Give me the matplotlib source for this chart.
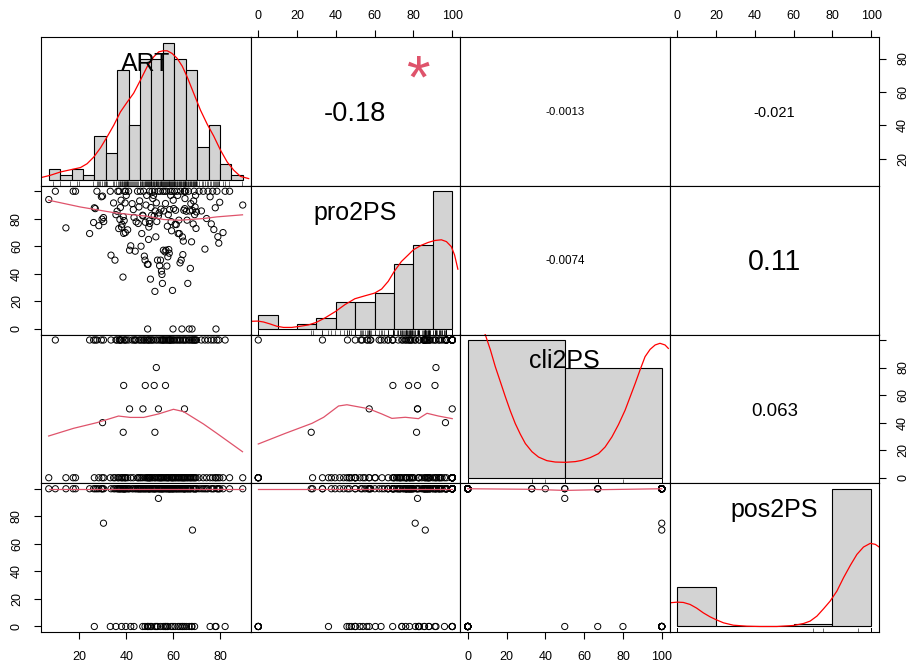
import numpy as np
import matplotlib.pyplot as plt
from matplotlib.transforms import offset_copy
from matplotlib.textpath import TextPath
from matplotlib.font_manager import FontProperties

plt.rcParams['font.family'] = ['Liberation Sans', 'DejaVu Sans']

names = ['ART', 'pro2PS', 'cli2PS', 'pos2PS']

# one row per respondent
art = [7.0, 9.8, 14.3, 17.4, 18.4, 24.4,
       26.1, 26.4, 26.8, 27.5, 28.3, 29.4, 29.7, 29.9,
       30.3, 30.4, 33.2, 33.5, 34.6,
       35.2, 35.6, 36.1, 36.4, 36.8, 37.0, 37.3, 37.5, 37.8, 38.0,
       38.2, 38.6, 38.7, 38.9, 39.1, 39.3, 39.5, 39.6, 39.8, 40.0,
       40.6, 41.0, 41.4, 41.9, 42.5, 43.0, 43.3, 43.8, 44.2, 44.8,
       45.1, 45.4, 45.7, 46.0, 46.3, 46.6, 47.0, 47.1, 47.4, 47.7, 48.0,
       48.1, 48.4, 48.7, 49.0, 49.1, 49.3, 49.5, 49.6, 49.8, 49.9, 50.0,
       50.3, 50.5, 50.8, 51.0, 51.3, 51.6, 51.9, 52.1, 52.2, 52.3, 52.6,
       52.8, 53.0, 53.3, 53.6, 53.7, 54.0, 54.2, 54.4, 54.6, 54.8, 55.0,
       55.2, 55.4, 55.6, 55.8, 56.0, 56.3, 56.5, 56.7, 56.9, 57.1, 57.3, 57.5,
       57.7, 57.9, 58.1, 58.3, 58.5, 58.7, 58.9, 59.1, 59.3, 59.5, 59.7, 59.9, 60.0,
       60.2, 60.5, 60.8, 61.0, 61.3, 61.6, 61.9, 62.1, 62.4, 62.6, 62.9,
       63.1, 63.4, 63.7, 63.9, 64.1, 64.3, 64.5, 64.7, 64.8, 64.9, 65.0,
       65.3, 65.6, 65.9, 66.2, 66.5, 66.8, 67.0, 67.3, 67.5, 67.8,
       68.0, 68.2, 68.5, 68.7, 68.9, 69.1, 69.3, 69.5, 69.7, 69.9,
       71.0, 72.0, 72.8, 73.5, 74.2, 74.8,
       75.7, 76.2, 76.8, 77.3, 77.9, 78.2, 78.6, 79.0, 79.4, 79.8,
       81.2, 82.1, 84.0, 89.6]

pro2ps = [94, 100, 73.4, 100, 100, 69.3,
          77.3, 88, 87.4, 100, 75, 96, 79.7, 96.5,
          80.9, 78, 100, 53.6, 91.5,
          50, 83, 85.5, 100, 72.9, 100, 79.5, 88.2, 93.5, 74,
          76, 37.7, 81.6, 69.4, 78.7, 100, 91.5, 70, 100, 97,
          72, 100, 57.2, 60.4, 91, 86.7, 81, 56.5, 77.8, 100,
          76.6, 88.6, 93, 100, 60.1, 69.3, 82.6, 82.1, 100, 52.9, 50,
          77.5, 90, 97, 46.9, 0, 47, 65, 74, 78.5, 100, 76.6,
          36.2, 88.2, 82.6, 100, 94.7, 97, 82.1, 100, 27.3, 85.7, 66.9,
          91.6, 78, 50, 100, 82.1, 84.3, 46, 100, 50, 87, 42,
          39.6, 33.1, 100, 57.2, 85.7, 100, 56, 91.1, 57.2, 100, 45.7, 74.6,
          52.4, 83, 57.7, 55, 86.7, 100, 97, 78, 71.3, 100, 28, 0, 93.5,
          87.4, 100, 76, 86.2, 75.8, 100, 97, 69.3, 79, 69.3, 48,
          100, 50, 0, 66.9, 54, 63.8, 86.2, 100, 100, 87.4, 94.7,
          100, 85.5, 79, 33.1, 100, 0, 85.7, 44, 91, 63.3,
          0, 86.1, 76.3, 93, 100, 83, 88.6, 97, 73, 85,
          100, 85.7, 100, 58, 80.2, 100,
          96, 76.3, 100, 72.2, 88, 0, 100, 67, 62.3, 92,
          70, 100, 100, 90]

cli2ps = [0, 100, 0, 0, 0, 100,
          100, 0, 100, 100, 0, 100, 0, 40,
          100, 0, 0, 100, 0,
          0, 100, 100, 0, 0, 100, 100, 100, 0, 100,
          0, 0, 33, 67, 100, 0, 100, 0, 0, 100,
          0, 100, 50, 0, 100, 0, 100, 100, 100, 0,
          0, 100, 0, 100, 0, 100, 0, 50, 100, 100, 0,
          67, 100, 0, 0, 100, 0, 100, 0, 100, 0, 0,
          0, 100, 0, 100, 0, 100, 67, 0, 33, 0, 100,
          80, 0, 100, 0, 50, 0, 100, 0, 0, 100, 0,
          0, 100, 100, 0, 100, 0, 100, 67, 0, 100, 0, 100,
          0, 0, 100, 0, 100, 100, 100, 0, 0, 100, 0, 0, 100,
          0, 100, 0, 0, 100, 0, 100, 0, 0, 100, 0,
          100, 0, 0, 100, 0, 0, 100, 0, 50, 0, 100,
          0, 100, 0, 0, 100, 0, 100, 0, 0, 100,
          0, 100, 0, 100, 0, 100, 0, 100, 0, 100,
          0, 100, 0, 100, 0, 100,
          0, 100, 0, 100, 0, 0, 100, 0, 100, 0,
          0, 100, 0, 0]

pos2ps = [100, 100, 100, 100, 100, 100,
          100, 0, 100, 100, 100, 100, 100, 100,
          75, 100, 0, 100, 100,
          100, 0, 100, 100, 100, 100, 100, 100, 100, 0,
          100, 100, 100, 100, 100, 100, 100, 100, 0, 100,
          100, 100, 100, 0, 100, 100, 0, 100, 100, 100,
          100, 100, 100, 100, 100, 100, 0, 100, 100, 100, 0,
          100, 100, 100, 0, 0, 100, 100, 0, 100, 100, 100,
          0, 100, 0, 100, 100, 100, 100, 100, 100, 0, 100,
          0, 100, 0, 100, 93, 100, 100, 100, 0, 100, 100,
          100, 100, 100, 0, 100, 100, 0, 0, 100, 100, 0, 100,
          0, 100, 100, 100, 100, 100, 100, 0, 100, 100, 100, 0, 100,
          100, 100, 0, 100, 100, 100, 100, 0, 100, 100, 0,
          100, 100, 0, 100, 0, 100, 100, 100, 0, 100, 100,
          100, 0, 100, 100, 100, 0, 100, 100, 100, 0,
          0, 70, 100, 100, 100, 0, 100, 100, 100, 100,
          100, 100, 100, 100, 100, 100,
          0, 100, 100, 100, 0, 0, 100, 100, 100, 100,
          100, 0, 100, 100]

# correlations shown in the upper panels
cor_cells = [(0, 1), (0, 2), (0, 3), (1, 2), (1, 3), (2, 3)]
cor_r = [-0.18, -0.0013, -0.021, -0.0074, 0.11, 0.063]
cor_txt = ['-0.18', '-0.0013', '-0.021', '-0.0074', '0.11', '0.063']
cor_sig = ['*', '', '', '', '', '']

# histogram breaks
art_breaks = [5, 10, 15, 20, 25, 30, 35, 40, 45, 50, 55, 60, 65, 70, 75, 80, 85, 90]
pro_breaks = [0, 10, 20, 30, 40, 50, 60, 70, 80, 90, 100]
cli_breaks = [0, 50, 100]
pos_breaks = [0, 20, 40, 60, 80, 100]

# density curves traced from the diagonal (y in counts)
art_dens_x = [1.8, 5.7, 10.1, 14.5, 18.9, 21.8, 24.7, 27.7, 30.6, 33.5, 36.4,
              39.4, 42.2, 45.2, 48.1, 51.0, 53.2, 55.1, 56.9, 59.1, 61.3,
              63.5, 65.6, 68.5, 71.5, 74.4, 77.3, 80.2, 83.2, 86.1, 89.0, 92.6]
art_dens_y = [0.5, 0.9, 1.5, 1.9, 2.3, 3.0, 4.2, 5.9, 7.9, 10.0, 12.4,
              14.2, 15.8, 18.2, 20.6, 22.4, 23.3, 23.5, 23.5, 23.0, 22.1,
              20.7, 18.8, 15.8, 12.7, 10.2, 8.0, 5.5, 3.3, 1.8, 0.7, 0.3]
pro_dens_x = [-4.1, -0.2, 2.7, 6.2, 9.6, 13.0, 17.3, 21.6, 25.9, 29.8, 34.4,
              39.9, 44.7, 49.8, 55.0, 60.0, 63.6, 67.0, 70.1, 73.8, 77.3,
              80.0, 84.1, 87.5, 91.0, 94.4, 97.0, 99.5, 101.2, 102.9]
pro_dens_y = [3.4, 3.5, 3.1, 2.2, 1.2, 0.7, 0.7, 1.2, 1.8, 2.9, 4.9,
              7.8, 10.8, 13.4, 14.7, 15.9, 17.7, 21.1, 25.5, 29.9, 32.8,
              35.1, 37.1, 38.3, 39.2, 39.5, 38.7, 36.5, 32.8, 26.5]
cli_dens_x = [-4, 0, 4, 6.5, 9.1, 11.7, 14.2, 16.8, 19.4, 22.0, 24.5, 27.1,
              29.7, 33.1, 36.5, 40.8, 45.1, 50.3, 55.4, 58.8, 63.1, 67.4,
              70.8, 74.3, 77.7, 81.1, 83.7, 86.3, 88.8, 91.4, 94.0, 96.6,
              99.1, 101.7, 103.4]
cli_dens_y = [121, 125, 120, 113, 103.6, 92.7, 80.6, 69.7, 58.7, 48.3, 39.3, 31.6,
              24.8, 18.9, 15.0, 12.4, 11.4, 11.2, 11.7, 12.6, 14.6, 17.5,
              22.3, 29.6, 38.6, 49.0, 58.7, 68.4, 78.2, 87.9, 93.2, 96.4,
              97.6, 96.4, 93.9]
pos_dens_x = [-4.1, 0, 3.1, 6.6, 10.0, 13.4, 16.9, 19.8, 23.8, 28.9, 35.8,
              42.7, 51.3, 59.9, 65.1, 68.5, 72.0, 75.4, 78.8, 82.3, 85.7,
              89.2, 92.6, 96.0, 99.5, 102.1, 104.1]
pos_dens_y = [23.7, 24.4, 24.1, 22.1, 18.4, 13.7, 9.7, 7.0, 3.7, 1.3, 0.3,
              0, 0, 1.0, 3.0, 5.4, 10.4, 17.7, 25.4, 35.5, 48.8,
              61.2, 72.2, 79.6, 83.3, 82.3, 79.6]

# lowess lines
art_pro_sx = [6.95, 20.4, 34.6, 41.7, 48.8, 55.9, 62.9, 67.2, 72.9, 78.6, 89.5]
art_pro_sy = [93.5, 88.6, 84.5, 83.1, 81.9, 79.5, 79.0, 79.5, 80.2, 81.4, 82.9]
art_cli_sx = [6.95, 17.6, 27.5, 36.7, 41.7, 47.4, 53.7, 60.1, 64.4, 72.9, 78.6, 89.5]
art_cli_sy = [30.3, 35.9, 40, 44.8, 43.8, 43.8, 46.3, 49.7, 48, 39, 32.2, 18.9]
pro_cli_sx = [0, 13.9, 27.7, 33.7, 41.4, 45.7, 56.9, 63.7, 68.9, 75.8, 82.6, 87, 92.9, 100]
pro_cli_sy = [24.5, 32.2, 39.5, 43.9, 52.1, 53, 50.1, 46.3, 43.1, 43.9, 42.9, 46.8, 44.8, 42.9]
art_pos_sx = [7, 30, 50, 70, 89.6]
art_pos_sy = [100, 100, 100, 100, 100]
pro_pos_sx = [0, 50, 100]
pro_pos_sy = [100, 100, 100]
cli_pos_sx = [0, 33, 50, 67, 100]
cli_pos_sy = [100, 99.6, 98.8, 99.3, 100]

data = [art, pro2ps, cli2ps, pos2ps]
breaks = [art_breaks, pro_breaks, cli_breaks, pos_breaks]
dens = [(art_dens_x, art_dens_y), (pro_dens_x, pro_dens_y),
        (cli_dens_x, cli_dens_y), (pos_dens_x, pos_dens_y)]
smooth = {(1, 0): (art_pro_sx, art_pro_sy), (2, 0): (art_cli_sx, art_cli_sy),
          (2, 1): (pro_cli_sx, pro_cli_sy), (3, 0): (art_pos_sx, art_pos_sy),
          (3, 1): (pro_pos_sx, pro_pos_sy), (3, 2): (cli_pos_sx, cli_pos_sy)}

R_RED = '#DF536B'
font = FontProperties(family=['Liberation Sans', 'DejaVu Sans'])


def pad_range(lo, hi):
    d = 0.04 * (hi - lo)
    return lo - d, hi + d


def centred_text(ax, x, y, s, size, **kw):
    # centre the glyph box (not the line box) on (x, y) in axes fraction
    ext = TextPath((0, 0), s, size=size, prop=font).get_extents()
    cx = (ext.x0 + ext.x1) / 2
    cy = (ext.y0 + ext.y1) / 2
    tr = offset_copy(ax.transAxes, fig=ax.figure, x=-cx, y=-cy, units='points')
    return ax.text(x, y, s, fontsize=size, ha='left', va='baseline', transform=tr, **kw)


lims = [pad_range(min(v), max(v)) for v in data]

W, H = 908, 668
fig = plt.figure(figsize=(W / 100, H / 100), dpi=100)
L, R, T, B = 41, 879, 37, 632
pw = (R - L) / 4
ph = (B - T) / 4

axes = {}
for i in range(4):
    for j in range(4):
        x0 = L + j * pw
        y0 = T + i * ph
        ax = fig.add_axes([x0 / W, 1 - (y0 + ph) / H, pw / W, ph / H])
        ax.set_xticks([])
        ax.set_yticks([])
        for s in ax.spines.values():
            s.set_linewidth(0.8)
            s.set_color('black')
        ax.set_xlim(lims[j])
        ax.set_ylim(lims[i])
        axes[i, j] = ax

# diagonal: histogram, density, rug, name
name_size = 18
for k in range(4):
    ax = axes[k, k]
    v = np.array(data[k], dtype=float)
    br = np.array(breaks[k], dtype=float)
    counts = []
    for b in range(len(br) - 1):
        c = np.sum((v > br[b]) & (v <= br[b + 1]))
        if b == 0:
            c += np.sum(v == br[0])
        counts.append(c)
    ax.bar(br[:-1], counts, width=np.diff(br), align='edge', color='#D3D3D3',
           edgecolor='black', linewidth=0.8)
    ax.set_xlim(pad_range(br[0], br[-1]))
    ax.set_ylim(pad_range(0, max(counts)))
    ax.plot(dens[k][0], dens[k][1], color='red', lw=0.9)
    ax.vlines(v, 0, 0.03, transform=ax.get_xaxis_transform(), color='black', lw=0.4)
    ax.text(0.5, 0.833, names[k], fontsize=name_size, ha='center', va='baseline',
            transform=offset_copy(ax.transAxes, fig=fig, y=-0.358 * name_size, units='points'))

# lower: scatter + smooth
for (i, j), (sx, sy) in smooth.items():
    ax = axes[i, j]
    ax.scatter(data[j], data[i], s=20, facecolors='none', edgecolors='black', linewidths=0.7)
    ax.plot(sx, sy, color=R_RED, lw=0.9)

# outer axes, R pairs style
lab_size = 9
pct = [0, 20, 40, 60, 80, 100]
pct_lab = ['0', '20', '40', '60', '80', '100']
pct_lab_side = ['0', '20', '40', '60', '80', '']
art_t = [20, 40, 60, 80]
art_lab = ['20', '40', '60', '80']


def xaxis_at(ax, ticks, labels, top):
    ax.set_xticks(ticks, labels)
    ax.tick_params(axis='x', direction='out', length=5, width=0.8, pad=6 if top else 9,
                   labelsize=lab_size, top=top, labeltop=top,
                   bottom=not top, labelbottom=not top)


def yaxis_at(ax, ticks, labels, right):
    ax.set_yticks(ticks, labels)
    ax.tick_params(axis='y', direction='out', length=5, width=0.8, pad=8,
                   labelsize=lab_size, labelrotation=90, right=right, labelright=right,
                   left=not right, labelleft=not right)
    for t in ax.get_yticklabels():
        t.set_va('center')


xaxis_at(axes[0, 1], pct, pct_lab, True)
xaxis_at(axes[0, 3], pct, pct_lab, True)
xaxis_at(axes[3, 0], art_t, art_lab, False)
xaxis_at(axes[3, 2], pct, pct_lab, False)
yaxis_at(axes[0, 3], art_t, art_lab, True)
yaxis_at(axes[2, 3], pct, pct_lab_side, True)
yaxis_at(axes[1, 0], pct, pct_lab_side, False)
yaxis_at(axes[3, 0], pct, pct_lab_side, False)

# upper: correlation text sized like chart.Correlation
fig.canvas.draw()
rend = fig.canvas.get_renderer()
for (i, j), r, txt, sig in zip(cor_cells, cor_r, cor_txt, cor_sig):
    ax = axes[i, j]
    t = ax.text(0.5, 0.5, txt, fontsize=10, ha='center', va='baseline', transform=ax.transAxes)
    w = t.get_window_extent(rend).width
    full = 10 * 0.8 * pw / w
    size = full * (abs(r) + 0.3) / 1.3
    t.set_fontsize(size)
    t.set_transform(offset_copy(ax.transAxes, fig=fig, y=-0.358 * size, units='points'))
    if sig.strip():
        centred_text(ax, 0.8, 0.8, sig, full * 0.82, color=R_RED)

fig.savefig('out.png', dpi=100)
